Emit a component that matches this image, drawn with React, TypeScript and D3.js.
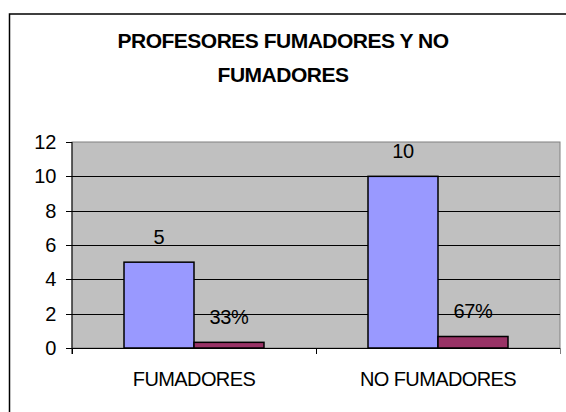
import React from "react";
import * as d3 from "d3";

const title = ["PROFESORES FUMADORES Y NO", "FUMADORES"];
const categories = ["FUMADORES", "NO FUMADORES"];
const counts = [5, 10];
const shares = [0.33, 0.67];
const yTicks = [0, 2, 4, 6, 8, 10, 12];

const W = 566;
const H = 412;
const plot = { left: 72, right: 560, top: 142, bottom: 348 };
const FONT = "'Liberation Sans', Arial, sans-serif";

export default function App() {
  const x = d3.scaleBand<string>().domain(categories).range([plot.left, plot.right]).paddingInner(0).paddingOuter(0);
  const inner = d3.scaleBand<string>().domain(["count", "share"]).range([0, x.bandwidth()]).paddingInner(0).paddingOuter(0.743);
  const y = d3.scaleLinear().domain([0, 12]).range([plot.bottom, plot.top]);
  const pct = d3.format(".0%");

  const series = [
    { key: "count", values: counts, fill: "#9999FF", label: (v: number) => String(v) },
    { key: "share", values: shares, fill: "#993366", label: (v: number) => pct(v) },
  ];

  return (
    <svg width={W} height={H} style={{ position: "absolute", left: 0, top: 0, background: "#fff" }} fontFamily={FONT}>
      <rect x={9.5} y={14} width={700} height={600} fill="#fff" stroke="#000" strokeWidth={1.5} />
      {title.map((t, i) => (
        <text key={i} x={283} y={48 + i * 34} textAnchor="middle" fontSize={21} letterSpacing={-0.5} fontWeight="bold" fill="#000">
          {t}
        </text>
      ))}
      <rect x={plot.left} y={plot.top} width={plot.right - plot.left} height={plot.bottom - plot.top} fill="#C0C0C0" stroke="#808080" strokeWidth={1} />
      {yTicks.filter((t) => t > 0 && t < 12).map((t) => (
        <line key={t} x1={plot.left} x2={plot.right} y1={Math.round(y(t)) + 0.5} y2={Math.round(y(t)) + 0.5} stroke="#000" strokeWidth={1} />
      ))}
      {categories.map((c, ci) =>
        series.map((s) => {
          const bx = (x(c) ?? 0) + (inner(s.key) ?? 0);
          const v = s.values[ci];
          const top = y(v);
          return (
            <g key={c + s.key}>
              <rect x={bx} y={top} width={inner.bandwidth()} height={plot.bottom - top} fill={s.fill} stroke="#000" strokeWidth={1.5} />
              <text x={bx + inner.bandwidth() / 2} y={top - 18} textAnchor="middle" fontSize={20} letterSpacing={-0.3} fill="#000">
                {s.label(v)}
              </text>
            </g>
          );
        })
      )}
      <line x1={plot.left} x2={plot.left} y1={plot.top} y2={plot.bottom + 6} stroke="#000" strokeWidth={1} />
      <line x1={plot.left} x2={plot.right} y1={plot.bottom + 0.5} y2={plot.bottom + 0.5} stroke="#000" strokeWidth={1} />
      {yTicks.map((t) => (
        <g key={t}>
          <line x1={plot.left - 6} x2={plot.left} y1={Math.round(y(t)) + 0.5} y2={Math.round(y(t)) + 0.5} stroke="#000" />
          <text x={56} y={y(t) + 7} textAnchor="end" fontSize={20} letterSpacing={-0.3} fill="#000">
            {t}
          </text>
        </g>
      ))}
      {[...categories.map((c) => x(c) ?? 0), plot.right].map((px, i) => (
        <line key={i} x1={Math.round(px) + 0.5} x2={Math.round(px) + 0.5} y1={plot.bottom} y2={plot.bottom + 6} stroke={i === 2 ? "#808080" : "#000"} />
      ))}
      {categories.map((c) => (
        <text key={c} x={(x(c) ?? 0) + x.bandwidth() / 2} y={386} textAnchor="middle" fontSize={20} letterSpacing={-0.6} fill="#000">
          {c}
        </text>
      ))}
    </svg>
  );
}
